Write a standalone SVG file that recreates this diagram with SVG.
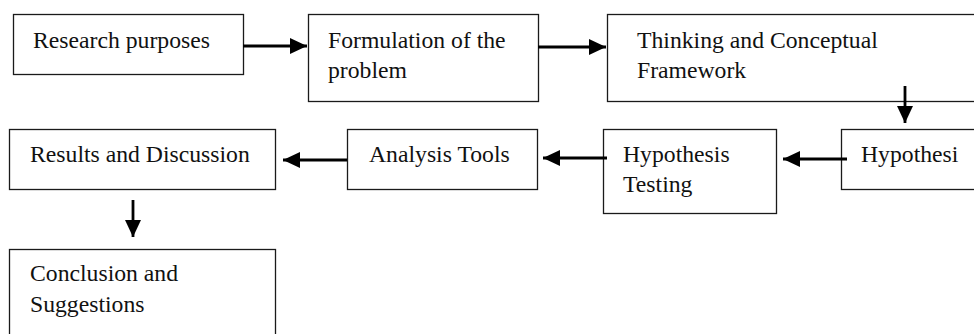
<svg xmlns="http://www.w3.org/2000/svg" width="974" height="334" viewBox="0 0 974 334">
<style>
.box{fill:#fff;stroke:#1a1a1a;stroke-width:1.3}
.t{font-family:"Liberation Serif","Times New Roman",serif;font-size:23.7px;fill:#111}
.c{stroke:#000;stroke-width:2.8;fill:none;marker-end:url(#ah)}
</style>
<defs>
<marker id="ah" viewBox="0 0 17 16" refX="17" refY="8" markerWidth="17" markerHeight="16" markerUnits="userSpaceOnUse" orient="auto">
<path d="M0,0 L17,8 L0,16 Z" fill="#000"/>
</marker>
</defs>
<rect width="974" height="334" fill="#fff"/>
<g id="n1"><rect class="box" x="13.5" y="14.5" width="230" height="60"/><text class="t" x="33" y="48">Research purposes</text></g>
<g id="n2"><rect class="box" x="308.5" y="14.5" width="230" height="87"/><text class="t" x="328" y="48">Formulation of the</text><text class="t" x="328" y="78">problem</text></g>
<g id="n3"><rect class="box" x="607.5" y="14.5" width="380" height="87"/><text class="t" x="637" y="48">Thinking and Conceptual</text><text class="t" x="637" y="78">Framework</text></g>
<g id="n4"><rect class="box" x="841.5" y="129.5" width="150" height="60"/><text class="t" x="861" y="162">Hypothesi</text></g>
<g id="n5"><rect class="box" x="603.5" y="129.5" width="173" height="84"/><text class="t" x="623" y="162">Hypothesis</text><text class="t" x="623" y="192">Testing</text></g>
<g id="n6"><rect class="box" x="347.5" y="129.5" width="190" height="60"/><text class="t" x="369" y="162">Analysis Tools</text></g>
<g id="n7"><rect class="box" x="9.5" y="129.5" width="266" height="60"/><text class="t" x="30" y="162">Results and Discussion</text></g>
<g id="n8"><rect class="box" x="9.5" y="249.5" width="266" height="100"/><text class="t" x="30" y="281">Conclusion and</text><text class="t" x="30" y="312">Suggestions</text></g>
<g id="connectors">
<line class="c" x1="243" y1="46" x2="307" y2="46"/>
<line class="c" x1="538" y1="47" x2="606" y2="47"/>
<line class="c" x1="905" y1="86" x2="905" y2="123"/>
<line class="c" x1="847" y1="159" x2="783" y2="159"/>
<line class="c" x1="607" y1="158" x2="543" y2="158"/>
<line class="c" x1="347" y1="160" x2="283" y2="160"/>
<line class="c" x1="133" y1="200" x2="133" y2="237"/>
</g>
</svg>
